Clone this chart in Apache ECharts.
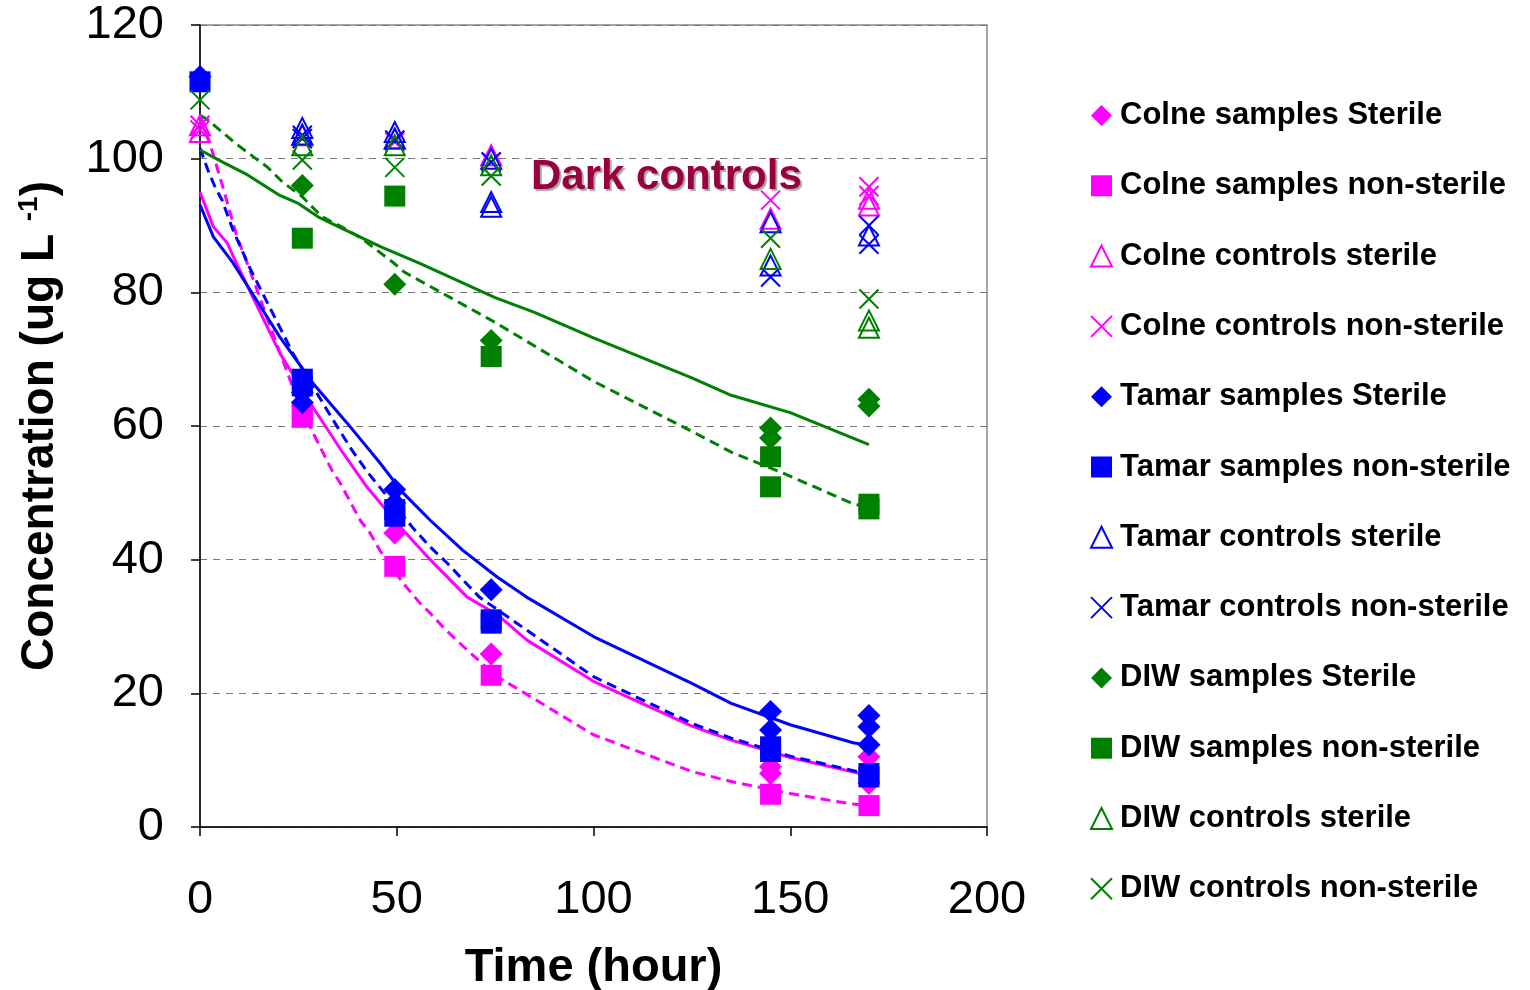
<!DOCTYPE html>
<html>
<head>
<meta charset="utf-8">
<script src="https://cdn.jsdelivr.net/npm/echarts@6/dist/echarts.min.js"></script>
<style>
  html, body { margin: 0; padding: 0; background: #fff; }
  #chart { width: 1530px; height: 990px; }
</style>
</head>
<body>
<div id="chart"></div>
<script>
// data: [time (hour), concentration (ug/L)]
const colneSampS   = [[26,63],[49.5,44],[74,25.9],[145,9],[145,8],[170,10.5],[170,6.5]];
const colneSampNS  = [[26,62],[26,61.3],[49.5,39],[74,22.7],[145,4.9],[170,3.2]];
const colneCtrlS   = [[0,105],[0,104],[26,103.5],[49.5,103],[74,100.5],[145,91],[170,93],[170,94]];
const colneCtrlNS  = [[0,105],[0,104.3],[26,103],[49.5,102.5],[74,99.5],[145,93.8],[170,95.8],[170,94.5]];
const tamarSampS   = [[0,112.3],[26,65],[26,63.5],[49.5,50.5],[49.5,48.5],[74,35.5],[145,17.3],[145,14.5],[170,16.7],[170,15],[170,12.3]];
const tamarSampNS  = [[0,111.5],[26,67],[26,66],[49.5,46.5],[49.5,47.5],[74,30.5],[74,31],[145,11.3],[145,12],[170,8],[170,7.5]];
const tamarCtrlS   = [[26,104.6],[26,103.6],[49.5,104],[49.5,103],[74,100],[74,93.5],[74,92.8],[145,84],[145,90.5],[170,88.5]];
const tamarCtrlNS  = [[26,103.5],[26,103],[49.5,102.8],[74,99.5],[145,82.3],[170,90],[170,87.2]];
const diwSampS     = [[26,96],[49.5,81.2],[74,72.8],[145,59.7],[145,58.2],[170,64],[170,63]];
const diwSampNS    = [[26,88.1],[49.5,94.4],[74,70.4],[145,55.4],[145,50.9],[170,48.3],[170,47.6]];
const diwCtrlS     = [[26,102],[49.5,102],[74,99],[145,85],[170,74.7],[170,75.8]];
const diwCtrlNS    = [[0,108.8],[26,99.8],[49.5,98.7],[74,97.4],[145,88.1],[170,79]];

// fitted curves
const colneFitS  = [[0,95],[3.4,89.8],[6.9,87.4],[8.9,84.8],[20.3,70.9],[28.7,62.8],[36.3,56],[42.4,50.9],[50,45.5],[58.5,40],[67.9,34.4],[75.5,31.8],[83,28],[100,21.8],[125,15.1],[135,13],[150,10.4],[170,7.7]];
const colneFitNS = [[0,106],[2.5,102.3],[5.8,95.8],[9.4,88.3],[11.4,85.3],[25,63.5],[28.7,59],[33.5,53.4],[35.6,51.5],[40.7,45.9],[43.2,44],[45.7,41.4],[51.6,36.5],[55.9,33.5],[58.5,32],[61.8,29.9],[66,27.5],[75,22.7],[100,13.8],[125,8.3],[135,6.8],[150,5],[165,3.5],[170,3.2]];
const tamarFitS  = [[0,93.1],[3.4,88.3],[8.4,84.4],[20.3,73.3],[28.7,66.4],[37.3,60.5],[45.7,54.5],[51.6,50],[58.5,45.9],[66.8,41.4],[75.5,37.4],[83,34.4],[100,28.5],[125,21.5],[135,18.5],[150,15.3],[166,12.6],[170,12.2]];
const tamarFitNS = [[0,101.6],[2,98.3],[3.8,95.8],[5.6,93.8],[8.4,89.3],[12.7,83.6],[23.6,70.9],[33.5,61.2],[38.6,56.4],[42.7,53],[53.9,44.9],[58.5,41.9],[62.8,39.5],[66.8,37],[71,34.4],[100,22.5],[125,15.5],[135,13.3],[150,10.6],[170,7.9]];
const diwFitS    = [[0,101.3],[6,99.4],[12,97.6],[20,94.6],[25,93.3],[30,91.3],[37,89.3],[46,86.8],[56,84.3],[75,79.2],[85,77],[100,73.2],[125,67.2],[135,64.6],[150,62],[170,57.2]];
const diwFitNS   = [[0,106.5],[2,105.8],[9,102.3],[13.5,100.3],[17,98.8],[21,96.5],[26,94.3],[31,91.3],[36,89.8],[41,88.1],[45,86.3],[49,84.5],[52,83],[75,75.5],[100,66.7],[125,59.2],[135,56.1],[148,53],[165,48.6],[170,47.7]];

const PINK = '#FF00FF', BLUE = '#0000FF', GREEN = '#008000';
const FONT = "'Liberation Sans', Arial, sans-serif";
const X_PATH = 'path://M0,0L20,20M20,0L0,20';

const legendNames = [
  'Colne samples Sterile', 'Colne samples non-sterile', 'Colne controls sterile', 'Colne controls non-sterile',
  'Tamar samples Sterile', 'Tamar samples non-sterile', 'Tamar controls sterile', 'Tamar controls non-sterile',
  'DIW samples Sterile', 'DIW samples non-sterile', 'DIW controls sterile', 'DIW controls non-sterile'
];

const filled = (name, data, color, symbol, size) => ({
  name, type: 'scatter', data, symbol, symbolSize: size, z: 3,
  itemStyle: { color, opacity: 1 }
});
const hollow = (name, data, color, symbol, size) => ({
  name, type: 'scatter', data, symbol, symbolSize: size, z: 3,
  itemStyle: { color: 'rgba(0,0,0,0)', borderColor: color, borderWidth: 2, opacity: 1 }
});
const fit = (name, data, color, dashed) => ({
  name, type: 'line', data, showSymbol: false, symbol: 'none', z: 2, silent: true,
  lineStyle: { color, width: 3, type: dashed ? [10, 6] : 'solid' }
});

const chart = echarts.init(document.getElementById('chart'), null, { renderer: 'canvas' });
const option = {
  animation: false,
  backgroundColor: '#fff',
  textStyle: { fontFamily: FONT },
  grid: {
    left: 200, right: 543, top: 25, bottom: 163,
    outerBoundsMode: 'none', containLabel: false,
    show: true, borderColor: '#888', borderWidth: 1.5
  },
  legend: {
    data: legendNames,
    orient: 'vertical',
    left: 1085,
    top: 95,
    itemWidth: 21,
    itemHeight: 21,
    itemGap: 39.3,
    textStyle: { fontSize: 31, fontWeight: 'bold', color: '#000', fontFamily: FONT, lineHeight: 31, padding: [0, 0, 0, 3] }
  },
  xAxis: {
    type: 'value', min: 0, max: 200, interval: 50,
    name: 'Time (hour)', nameLocation: 'middle', nameGap: 118,
    nameTextStyle: { fontSize: 47, fontWeight: 'bold', color: '#000', fontFamily: FONT },
    axisLine: { lineStyle: { color: '#000', width: 1.5 } },
    axisTick: { show: true, inside: false, length: 9, lineStyle: { color: '#000', width: 1.5 } },
    axisLabel: { fontSize: 47, color: '#000', margin: 50, fontFamily: FONT },
    splitLine: { show: false }
  },
  yAxis: {
    type: 'value', min: 0, max: 120, interval: 20,
    name: 'Concentration (ug L {sup|-1})', nameLocation: 'middle', nameGap: 135,
    nameTextStyle: {
      fontSize: 46, fontWeight: 'bold', color: '#000', fontFamily: FONT,
      rich: { sup: { fontSize: 28, fontWeight: 'bold', color: '#000', fontFamily: FONT, verticalAlign: 'top', padding: [0, 0, 22, 0] } }
    },
    axisLine: { show: true, lineStyle: { color: '#000', width: 1.5 } },
    axisTick: { show: true, inside: false, length: 9, lineStyle: { color: '#000', width: 1.5 } },
    axisLabel: { fontSize: 47, color: '#000', margin: 36, fontFamily: FONT, padding: [20, 0, 0, 0] },
    splitLine: { show: true, lineStyle: { color: '#777', width: 1.2, type: [7, 6] } }
  },
  graphic: [{
    type: 'text', left: 531, top: 156, z: 10,
    style: {
      text: 'Dark controls', fontSize: 42, fontWeight: 'bold', fontFamily: FONT, fill: '#990040',
      textShadowColor: 'rgba(0,0,0,0.35)', textShadowOffsetX: 2, textShadowOffsetY: 2, textShadowBlur: 1
    }
  }],
  series: [
    fit('Colne sterile fit', colneFitS, PINK, false),
    fit('Colne non-sterile fit', colneFitNS, PINK, true),
    fit('Tamar sterile fit', tamarFitS, BLUE, false),
    fit('Tamar non-sterile fit', tamarFitNS, BLUE, true),
    fit('DIW sterile fit', diwFitS, GREEN, false),
    fit('DIW non-sterile fit', diwFitNS, GREEN, true),
    filled(legendNames[0], colneSampS, PINK, 'diamond', 23),
    filled(legendNames[1], colneSampNS, PINK, 'rect', 21),
    hollow(legendNames[2], colneCtrlS, PINK, 'triangle', 20),
    hollow(legendNames[3], colneCtrlNS, PINK, X_PATH, 19),
    filled(legendNames[4], tamarSampS, BLUE, 'diamond', 23),
    filled(legendNames[5], tamarSampNS, BLUE, 'rect', 21),
    hollow(legendNames[6], tamarCtrlS, BLUE, 'triangle', 20),
    hollow(legendNames[7], tamarCtrlNS, BLUE, X_PATH, 19),
    filled(legendNames[8], diwSampS, GREEN, 'diamond', 23),
    filled(legendNames[9], diwSampNS, GREEN, 'rect', 21),
    hollow(legendNames[10], diwCtrlS, GREEN, 'triangle', 20),
    hollow(legendNames[11], diwCtrlNS, GREEN, X_PATH, 19)
  ]
};
chart.setOption(option);
</script>
</body>
</html>
